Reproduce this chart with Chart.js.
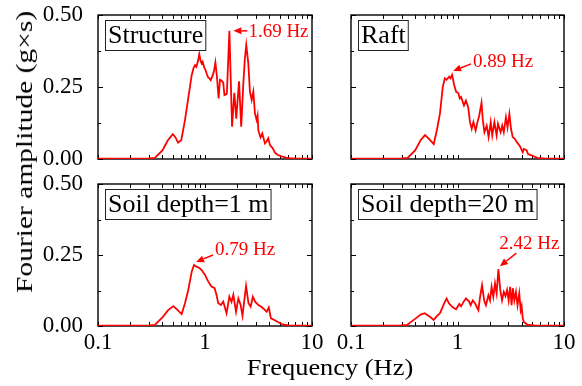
<!DOCTYPE html>
<html>
<head>
<meta charset="utf-8">
<script src="https://cdn.jsdelivr.net/npm/chart.js@4.4.1/dist/chart.umd.min.js"></script>
<style>
html, body { margin: 0; padding: 0; background: #fff; }
#fig { position: relative; width: 582px; height: 386px; overflow: hidden; background: #fff; }
#fig canvas { position: absolute; left: 0; top: 0; }
.axis-title { position: absolute; font-family: 'Liberation Serif', 'Times New Roman', serif; font-size: 24px; line-height: 24px; white-space: nowrap; color: #000; }
</style>
</head>
<body>
<div id="fig">
  <canvas id="c0" width="582" height="386"></canvas>
  <canvas id="c1" width="582" height="386"></canvas>
  <canvas id="c2" width="582" height="386"></canvas>
  <canvas id="c3" width="582" height="386"></canvas>
  <div class="axis-title" style="left:330px; top:367px; transform:translate(-50%,-50%) scaleX(1.10);">Frequency (Hz)</div>
  <div class="axis-title" style="left:24px; top:151.5px; transform:translate(-50%,-50%) rotate(-90deg) scaleX(1.23);">Fourier amplitude (g×s)</div>
</div>
<script>
// Fourier amplitude spectra (frequency in Hz, amplitude in g×s)
const structureFreq = [0.1, 0.2, 0.3, 0.34, 0.4, 0.45, 0.5, 0.53, 0.56, 0.6, 0.65, 0.69, 0.724, 0.75, 0.78, 0.806, 0.83, 0.86, 0.884, 0.91, 0.93, 0.95, 0.98, 1.01, 1.04, 1.07, 1.1, 1.13, 1.18, 1.22, 1.25, 1.29, 1.34, 1.38, 1.43, 1.48, 1.52, 1.6, 1.69, 1.79, 1.88, 1.96, 2.08, 2.18, 2.28, 2.36, 2.43, 2.54, 2.63, 2.73, 2.83, 2.93, 3.04, 3.1, 3.15, 3.3, 3.43, 3.63, 3.75, 3.9, 4.05, 4.3, 4.5, 4.8, 5.2, 5.7, 6.2, 7, 10];
const structureAmp = [0.001, 0.001, 0.002, 0.004, 0.03, 0.065, 0.086, 0.075, 0.057, 0.065, 0.135, 0.2, 0.251, 0.29, 0.315, 0.326, 0.32, 0.34, 0.364, 0.34, 0.332, 0.338, 0.32, 0.309, 0.295, 0.283, 0.28, 0.274, 0.29, 0.31, 0.335, 0.29, 0.21, 0.275, 0.272, 0.265, 0.222, 0.226, 0.445, 0.112, 0.23, 0.14, 0.27, 0.112, 0.26, 0.35, 0.396, 0.332, 0.234, 0.205, 0.234, 0.158, 0.135, 0.15, 0.1, 0.075, 0.089, 0.054, 0.06, 0.072, 0.048, 0.037, 0.022, 0.014, 0.009, 0.005, 0.003, 0.001, 0.001];

const raftFreq = [0.1, 0.2, 0.3, 0.34, 0.4, 0.45, 0.495, 0.54, 0.598, 0.64, 0.685, 0.728, 0.76, 0.79, 0.835, 0.86, 0.89, 0.93, 0.97, 1.02, 1.05, 1.08, 1.15, 1.2, 1.26, 1.31, 1.36, 1.41, 1.48, 1.54, 1.6, 1.68, 1.73, 1.79, 1.88, 1.96, 2.05, 2.12, 2.22, 2.33, 2.4, 2.54, 2.63, 2.72, 2.85, 2.95, 3.07, 3.18, 3.3, 3.45, 3.6, 3.86, 4.1, 4.2, 4.45, 4.6, 5.0, 5.6, 6.8, 10];
const raftAmp = [0.001, 0.001, 0.002, 0.004, 0.03, 0.065, 0.083, 0.07, 0.052, 0.1, 0.159, 0.251, 0.28, 0.275, 0.286, 0.28, 0.292, 0.257, 0.234, 0.228, 0.21, 0.215, 0.186, 0.203, 0.18, 0.128, 0.105, 0.128, 0.099, 0.128, 0.151, 0.195, 0.134, 0.093, 0.116, 0.076, 0.128, 0.082, 0.128, 0.082, 0.122, 0.093, 0.116, 0.093, 0.145, 0.11, 0.157, 0.105, 0.076, 0.07, 0.059, 0.044, 0.024, 0.035, 0.031, 0.017, 0.012, 0.004, 0.001, 0.001];

const soil1Freq = [0.1, 0.3, 0.34, 0.4, 0.45, 0.506, 0.55, 0.605, 0.65, 0.698, 0.751, 0.79, 0.83, 0.88, 0.93, 1.0, 1.07, 1.15, 1.23, 1.28, 1.33, 1.41, 1.48, 1.59, 1.69, 1.77, 1.84, 1.95, 2.05, 2.15, 2.24, 2.33, 2.42, 2.55, 2.67, 2.8, 2.95, 3.15, 3.35, 3.55, 3.77, 3.95, 4.13, 4.45, 4.8, 5.2, 6.2, 10];
const soil1Amp = [0.001, 0.002, 0.004, 0.03, 0.055, 0.07, 0.058, 0.042, 0.08, 0.127, 0.191, 0.215, 0.209, 0.205, 0.197, 0.18, 0.157, 0.139, 0.133, 0.11, 0.08, 0.074, 0.086, 0.045, 0.103, 0.085, 0.11, 0.05, 0.097, 0.075, 0.036, 0.09, 0.141, 0.08, 0.068, 0.103, 0.085, 0.074, 0.068, 0.06, 0.05, 0.065, 0.027, 0.021, 0.014, 0.007, 0.001, 0.001];

const soil20Freq = [0.1, 0.3, 0.336, 0.4, 0.45, 0.492, 0.55, 0.597, 0.64, 0.685, 0.75, 0.79, 0.83, 0.9, 0.97, 1.04, 1.08, 1.14, 1.2, 1.29, 1.33, 1.39, 1.46, 1.57, 1.63, 1.7, 1.78, 1.85, 1.95, 2.02, 2.09, 2.17, 2.25, 2.33, 2.42, 2.52, 2.62, 2.72, 2.82, 2.92, 3.02, 3.12, 3.22, 3.31, 3.42, 3.54, 3.66, 3.8, 3.92, 4.0, 4.1, 4.2, 4.52, 5.4, 10];
const soil20Amp = [0.001, 0.002, 0.004, 0.025, 0.04, 0.045, 0.033, 0.021, 0.035, 0.045, 0.08, 0.097, 0.08, 0.066, 0.059, 0.078, 0.069, 0.085, 0.097, 0.085, 0.073, 0.09, 0.08, 0.056, 0.103, 0.144, 0.09, 0.073, 0.108, 0.09, 0.138, 0.103, 0.15, 0.115, 0.2, 0.127, 0.09, 0.12, 0.105, 0.127, 0.09, 0.138, 0.073, 0.133, 0.09, 0.12, 0.073, 0.115, 0.056, 0.07, 0.026, 0.014, 0.005, 0.001, 0.001];

const panelLabels = ['Structure', 'Raft', 'Soil depth=1 m', 'Soil depth=20 m'];
const peakFreqs = [1.69, 0.89, 0.79, 2.42];
const peakAmps = [0.445, 0.292, 0.215, 0.2];
const xTickValues = [0.1, 1, 10];
const yTickValues = [0, 0.25, 0.5];

const SERIF = "'Liberation Serif', 'Times New Roman', serif";
const RED = '#ff0000';

// plot boxes (chart area edges in page pixels) and annotation offsets from the peak
const panels = [
  { canvas: 'c0', freq: structureFreq, amp: structureAmp, area: { l: 98, t: 15, r: 312, b: 159 }, showX: false, showY: true,
    arrow: { tip: [4, 0], tail: [18, 0], text: [19, 1], align: 'left' } },
  { canvas: 'c1', freq: raftFreq, amp: raftAmp, area: { l: 351, t: 15, r: 564, b: 159 }, showX: false, showY: false,
    arrow: { tip: [1, -4], tail: [19, -11], text: [21, -13], align: 'left' } },
  { canvas: 'c2', freq: soil1Freq, amp: soil1Amp, area: { l: 98, t: 184, r: 312, b: 326 }, showX: true, showY: true,
    arrow: { tip: [2, -3], tail: [19, -10], text: [21, -15], align: 'left' } },
  { canvas: 'c3', freq: soil20Freq, amp: soil20Amp, area: { l: 351, t: 184, r: 564, b: 326 }, showX: true, showY: false,
    arrow: { tip: [1.5, -3], tail: [18, -16], text: [31, -25], align: 'center' } }
];

const W = 582, H = 386;
const Y_AXIS_W = 60, X_AXIS_H = 40;

// inward tick marks on all four sides, frame, panel label and peak annotation
function panelPlugin(idx, panel) {
  return {
    id: 'panelDecor' + idx,
    beforeDatasetsDraw(chart) {
      const { ctx, chartArea: a, scales: { x, y } } = chart;
      ctx.save();
      ctx.strokeStyle = '#000';
      ctx.lineWidth = 1;
      ctx.beginPath();
      const xMarks = [];
      [0.1, 1].forEach(d => { for (let k = 1; k <= 9; k++) xMarks.push(k * d); });
      xMarks.push(10);
      xMarks.forEach(v => {
        const p = Math.round(x.getPixelForValue(v)) + 0.5;
        ctx.moveTo(p, a.bottom); ctx.lineTo(p, a.bottom - 4);
        ctx.moveTo(p, a.top); ctx.lineTo(p, a.top + 4);
      });
      [0, 0.125, 0.25, 0.375, 0.5].forEach((v, i) => {
        const len = i % 2 === 0 ? 5 : 3;
        const p = Math.round(y.getPixelForValue(v)) + 0.5;
        ctx.moveTo(a.left, p); ctx.lineTo(a.left + len, p);
        ctx.moveTo(a.right, p); ctx.lineTo(a.right - len, p);
      });
      ctx.stroke();
      ctx.lineWidth = 1.4;
      ctx.strokeRect(a.left, a.top, a.right - a.left, a.bottom - a.top);
      ctx.restore();
    },
    afterDatasetsDraw(chart) {
      const { ctx, chartArea: a, scales: { x, y } } = chart;
      ctx.save();
      // panel label in a boxed frame
      ctx.font = '26px ' + SERIF;
      const text = panelLabels[idx];
      const tw = ctx.measureText(text).width;
      const bx = a.left + 7.5, by = a.top + 5.5, bw = tw + 5, bh = 30;
      ctx.fillStyle = '#fff';
      ctx.fillRect(bx, by, bw, bh);
      ctx.strokeStyle = '#222';
      ctx.lineWidth = 1;
      ctx.strokeRect(bx, by, bw, bh);
      ctx.fillStyle = '#000';
      ctx.textAlign = 'left';
      ctx.textBaseline = 'middle';
      ctx.fillText(text, bx + 2.5, by + bh / 2 + 1);

      // peak annotation: arrow pointing at the peak and its frequency
      const px = x.getPixelForValue(peakFreqs[idx]);
      const py = y.getPixelForValue(peakAmps[idx]);
      const arr = panel.arrow;
      const tipX = px + arr.tip[0], tipY = py + arr.tip[1];
      const tailX = px + arr.tail[0], tailY = py + arr.tail[1];
      const ang = Math.atan2(tipY - tailY, tipX - tailX);
      const headLen = 8, headHalf = 3.5;
      const baseX = tipX - headLen * Math.cos(ang), baseY = tipY - headLen * Math.sin(ang);
      ctx.strokeStyle = RED;
      ctx.fillStyle = RED;
      ctx.lineWidth = 1.5;
      ctx.beginPath();
      ctx.moveTo(tailX, tailY);
      ctx.lineTo(baseX, baseY);
      ctx.stroke();
      ctx.beginPath();
      ctx.moveTo(tipX, tipY);
      ctx.lineTo(baseX + headHalf * Math.sin(ang), baseY - headHalf * Math.cos(ang));
      ctx.lineTo(baseX - headHalf * Math.sin(ang), baseY + headHalf * Math.cos(ang));
      ctx.closePath();
      ctx.fill();
      ctx.font = '19px ' + SERIF;
      ctx.textAlign = arr.align;
      ctx.textBaseline = 'middle';
      ctx.fillText(peakFreqs[idx].toFixed(2) + ' Hz', px + arr.text[0], py + arr.text[1]);
      ctx.restore();
    }
  };
}

panels.forEach((panel, idx) => {
  const ar = panel.area;
  const yW = panel.showY ? Y_AXIS_W : 0;
  const xH = panel.showX ? X_AXIS_H : 0;
  new Chart(document.getElementById(panel.canvas), {
    type: 'line',
    data: {
      datasets: [{
        data: panel.freq.map((f, i) => ({ x: f, y: panel.amp[i] })),
        borderColor: RED,
        borderWidth: 1.8,
        pointRadius: 0,
        tension: 0,
        fill: false
      }]
    },
    options: {
      responsive: false,
      animation: false,
      events: [],
      layout: { padding: { left: ar.l - yW, top: ar.t, right: W - ar.r, bottom: H - ar.b - xH } },
      plugins: { legend: { display: false }, tooltip: { enabled: false } },
      scales: {
        x: {
          type: 'logarithmic',
          min: 0.1, max: 10,
          grid: { display: false },
          border: { display: false },
          afterBuildTicks: s => { s.ticks = xTickValues.map(v => ({ value: v })); },
          afterFit: s => { s.height = xH; s.paddingLeft = 0; s.paddingRight = 0; s.paddingTop = 0; s.paddingBottom = 0; },
          ticks: {
            display: panel.showX,
            autoSkip: false, maxRotation: 0, padding: -5,
            color: '#000',
            font: { family: SERIF, size: 23 },
            callback: v => String(v)
          }
        },
        y: {
          min: 0, max: 0.5,
          grid: { display: false },
          border: { display: false },
          afterBuildTicks: s => { s.ticks = yTickValues.map(v => ({ value: v })); },
          afterFit: s => { s.width = yW; s.paddingLeft = 0; s.paddingRight = 0; s.paddingTop = 0; s.paddingBottom = 0; },
          ticks: {
            display: panel.showY,
            padding: 7,
            color: '#000',
            font: { family: SERIF, size: 23 },
            callback: v => Number(v).toFixed(2)
          }
        }
      }
    },
    plugins: [panelPlugin(idx, panel)]
  });
});
</script>
</body>
</html>
